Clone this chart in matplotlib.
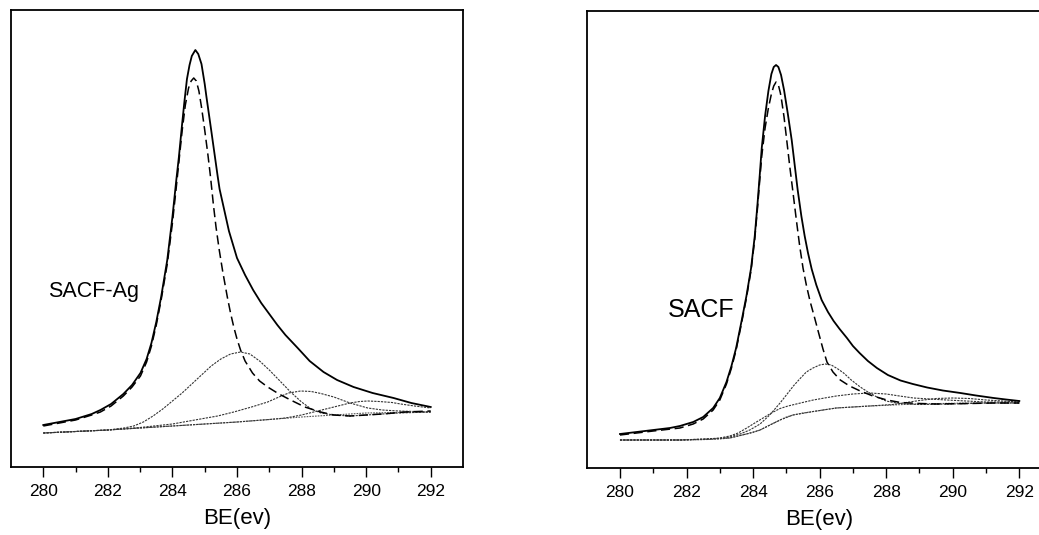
import matplotlib
matplotlib.use("Agg")
import matplotlib.pyplot as plt

plt.rcParams['font.family'] = ['Liberation Sans', 'DejaVu Sans']

# ---------------- SACF-Ag (left panel) ----------------
ag_env_E = [280.0, 280.5, 281.0, 281.5, 281.77, 282.1, 282.48, 282.75, 283.01, 283.2, 283.35,
            283.5, 283.65, 283.84, 284.0, 284.12, 284.2, 284.3, 284.37, 284.45, 284.53, 284.6,
            284.71, 284.8, 284.9, 285.0, 285.05, 285.2, 285.3, 285.4, 285.46, 285.55, 285.75,
            286.0, 286.25, 286.5, 286.75, 287.0, 287.25, 287.5, 287.88, 288.25, 288.68, 289.1,
            289.61, 290.2, 290.85, 291.4, 292.0]
ag_env_I = [42, 45, 48, 53, 57, 63, 73, 82, 94, 108, 124,
            145, 170, 207, 250, 287, 310, 343, 365, 388, 402, 411,
            417, 413, 403, 383, 371, 337, 314, 291, 278, 265, 236,
            209, 192, 177, 164, 153, 142, 132, 119, 106, 95, 87,
            80, 74, 69, 64, 60]

ag_main_E = [280.0, 280.5, 281.0, 281.5, 281.77, 282.1, 282.48, 282.75, 283.01, 283.2, 283.35,
             283.5, 283.65, 283.84, 284.0, 284.12, 284.2, 284.3, 284.4, 284.5, 284.58, 284.66,
             284.74, 284.82, 284.9, 285.0, 285.1, 285.18, 285.27, 285.35, 285.45, 285.56, 285.7,
             285.8, 285.9, 286.0, 286.11, 286.25, 286.48, 286.7, 286.95, 287.3, 287.66, 288.1,
             288.59, 289.0, 289.5, 290.0, 290.5, 291.2, 292.0]
ag_main_I = [41, 44, 47, 52, 55, 61, 71, 80, 91, 105, 121,
             142, 167, 203, 244, 280, 305, 336, 362, 379, 386, 389,
             386, 376, 360, 337, 312, 290, 262, 240, 217, 195, 170,
             154, 140, 128, 117, 106, 94, 86, 80, 73, 67, 60,
             55, 52, 51, 52, 53, 55, 56]

ag_c2_E = [280.0, 281.0, 282.0, 282.5, 282.8, 283.1, 283.4, 283.7, 284.0, 284.3, 284.6,
           284.9, 285.2, 285.5, 285.8, 286.11, 286.4, 286.7, 287.0, 287.3, 287.66, 288.0,
           288.3, 288.6, 289.0, 289.5, 290.0, 291.0, 292.0]
ag_c2_I = [34, 35.5, 37, 39, 41, 45, 51, 58, 66, 74, 83,
           92, 101, 108, 113, 115, 113, 106, 97, 87, 75, 65,
           58, 54, 52, 51, 52, 54, 55]

ag_c3_E = [280.0, 282.0, 283.0, 284.0, 284.87, 285.4, 285.9, 286.45, 286.95, 287.3, 287.6,
           287.97, 288.3, 288.6, 289.0, 289.5, 290.05, 290.5, 291.0, 292.0]
ag_c3_I = [34, 37, 39.5, 43, 48, 51, 55, 60, 65, 70, 74,
           76, 75.5, 73.5, 70, 64, 59, 57, 56, 55]

ag_c4_E = [280.0, 282.0, 284.0, 286.0, 287.0, 287.5, 288.0, 288.5, 289.0, 289.5, 289.8,
           290.05, 290.4, 290.8, 291.07, 291.5, 292.0]
ag_c4_I = [34, 37, 41, 45, 47.5, 49, 52, 56, 60, 64, 65.5,
           66, 65.5, 64.5, 63, 61, 59]

ag_bg_E = [280.0, 282.0, 284.0, 286.0, 288.0, 290.0, 292.0]
ag_bg_I = [34, 37, 41, 45, 50, 54, 55]

# ---------------- SACF (right panel) ----------------
sa_env_E = [280.0, 280.5, 281.0, 281.5, 281.8, 282.2, 282.5, 282.8, 283.0, 283.2, 283.35,
            283.49, 283.66, 283.8, 283.94, 284.05, 284.13, 284.2, 284.26, 284.36, 284.46, 284.55,
            284.62, 284.69, 284.76, 284.84, 284.93, 285.04, 285.16, 285.25, 285.34, 285.45, 285.55,
            285.65, 285.76, 285.9, 286.06, 286.25, 286.42, 286.6, 286.82, 287.0, 287.2, 287.45,
            287.72, 288.05, 288.43, 288.8, 289.23, 289.7, 290.23, 290.7, 291.23, 291.6, 292.0]
sa_env_I = [34, 36, 38, 40, 42, 46, 51, 60, 70, 86, 102,
            120, 148, 172, 200, 232, 263, 293, 320, 352, 377, 394,
            401, 403, 401, 393, 378, 355, 328, 303, 278, 252, 232,
            215, 199, 183, 168, 156, 147, 139, 130, 122, 115, 107,
            100, 93, 87.5, 84, 80.5, 77.5, 75, 72.5, 70, 68.5, 67]

sa_main_E = [280.0, 281.0, 281.8, 282.2, 282.5, 282.8, 283.0, 283.2, 283.35, 283.49, 283.66,
             283.8, 283.94, 284.05, 284.13, 284.2, 284.26, 284.36, 284.46, 284.55, 284.62, 284.69,
             284.76, 284.82, 284.86, 284.93, 285.0, 285.1, 285.19, 285.3, 285.4, 285.5, 285.6,
             285.71, 285.85, 285.97, 286.1, 286.22, 286.4, 286.62, 286.9, 287.22, 287.6, 288.02,
             288.43, 289.0, 289.5, 290.5, 291.2, 292.0]
sa_main_I = [33, 37, 40, 44, 49, 58, 68, 84, 100, 118, 146,
             170, 198, 229, 259, 288, 312, 340, 360, 374, 382, 386,
             383, 375, 367, 351, 331, 302, 278, 248, 222, 200, 183,
             167, 150, 135, 119, 106, 96, 88, 82, 77, 72, 68,
             65.5, 64.5, 64, 64.5, 65, 65]

sa_c2_E = [280.0, 281.0, 281.8, 282.5, 283.0, 283.3, 283.61, 283.9, 284.21, 284.5, 284.81,
           285.0, 285.21, 285.4, 285.6, 285.8, 286.0, 286.17, 286.35, 286.55, 286.72, 286.95,
           287.22, 287.45, 287.72, 288.0, 288.22, 288.6, 289.0, 290.0, 291.0, 292.0]
sa_c2_I = [28, 28, 28, 28.5, 29.5, 31, 34, 38, 44, 53, 65,
           73, 82, 89, 96, 100, 103, 104, 103, 99, 95, 88,
           81, 76, 71, 67, 65.5, 64, 63.5, 64, 65, 65]

sa_c3_E = [280.0, 281.0, 281.8, 282.6, 283.0, 283.3, 283.55, 283.81, 284.05, 284.3, 284.55,
           284.81, 285.05, 285.3, 285.55, 285.81, 286.15, 286.5, 287.0, 287.5, 288.0, 288.4,
           288.82, 289.3, 289.82, 290.4, 291.0, 292.0]
sa_c3_I = [28, 28, 28, 29, 30, 32, 35, 40, 45, 50, 55,
           59.5, 62, 64, 66, 68, 70, 72, 74, 75, 74, 72,
           70, 69, 68, 67, 66, 66]

sa_c4_E = [280.0, 281.8, 283.3, 283.8, 284.21, 284.81, 285.2, 285.81, 286.5, 287.5, 288.2,
           288.6, 289.0, 289.5, 290.0, 290.5, 291.0, 291.5, 292.0]
sa_c4_I = [28, 28, 30, 34, 38, 48, 53, 56.5, 60, 62, 63.5,
           65.5, 67.5, 69.5, 70, 69.5, 68, 67, 66]

sa_bg_E = [280.0, 281.0, 281.8, 282.6, 283.0, 283.3, 283.55, 283.8, 284.0, 284.21, 284.5,
           284.81, 285.0, 285.2, 285.5, 285.81, 286.2, 286.5, 287.0, 287.5, 288.2, 288.82,
           290.5, 292.0]
sa_bg_I = [28, 28, 28, 28.5, 29, 30, 32, 34, 35.5, 38, 43,
           48, 51, 53, 55, 56.5, 58.5, 60, 61, 62, 63, 64,
           65, 65]

x_ticks = [280, 282, 284, 286, 288, 290, 292]
x_label = "BE(ev)"
labels = ["SACF-Ag", "SACF"]

W, H = 1039, 535
fig = plt.figure(figsize=(W / 100, H / 100), dpi=100)


def px_axes(x0, x1, ytop, ybot):
    return fig.add_axes([x0 / W, 1 - ybot / H, (x1 - x0) / W, (ybot - ytop) / H])


def panel(ax, env, main, comps, bg, label, label_pos, label_size, ymax):
    ax.plot(*bg, color='#555555', lw=0.8, dashes=(1.5, 1.0))
    for c in comps:
        ax.plot(*c, color='#333333', lw=0.8, dashes=(2.0, 1.0))
    ax.plot(*main, color='black', lw=1.1, dashes=(6, 3))
    ax.plot(*env, color='black', lw=1.3)
    ax.set_xlim(279, 293)
    ax.set_ylim(0, ymax)
    ax.set_xticks(x_ticks)
    ax.set_xticks([281, 283, 285, 287, 289, 291], minor=True)
    ax.set_yticks([])
    ax.tick_params(axis='x', which='major', direction='out', length=7, width=1.0,
                   labelsize=12.5, pad=5)
    ax.tick_params(axis='x', which='minor', direction='out', length=3.5, width=1.0)
    for s in ax.spines.values():
        s.set_linewidth(1.3)
    ax.set_xlabel(x_label, fontsize=16, labelpad=7)
    ax.text(label_pos[0], label_pos[1], label, fontsize=label_size, ha='left', va='center')


ax1 = px_axes(11, 463, 10, 467)
panel(ax1, (ag_env_E, ag_env_I), (ag_main_E, ag_main_I),
      [(ag_c2_E, ag_c2_I), (ag_c3_E, ag_c3_I), (ag_c4_E, ag_c4_I)],
      (ag_bg_E, ag_bg_I), labels[0], (280.15, 176), 15.5, 457)

ax2 = px_axes(586.7, 1052.6, 10.7, 468)
panel(ax2, (sa_env_E, sa_env_I), (sa_main_E, sa_main_I),
      [(sa_c2_E, sa_c2_I), (sa_c3_E, sa_c3_I), (sa_c4_E, sa_c4_I)],
      (sa_bg_E, sa_bg_I), labels[1], (281.44, 158), 18, 457.3)

fig.savefig("out.png", dpi=100)
